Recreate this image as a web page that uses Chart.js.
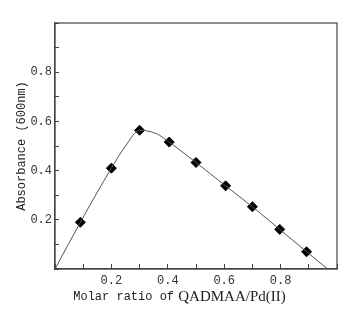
<!DOCTYPE html>
<html lang="en">
<head>
    <meta charset="UTF-8">
    <script src="https://cdn.jsdelivr.net/npm/chart.js"></script>
    <title>Absorbance vs molar ratio</title>
    <style>
        body { margin: 0; background: #fff; }
        #wrap { width: 359px; height: 325px; }
    </style>
</head>
<body>
    <div id="wrap"><canvas id="chart_div" width="359" height="325"></canvas></div>
    <script>
        // measured points (diamonds)
        var ratio = [0.09, 0.20, 0.30, 0.405, 0.50, 0.605, 0.70, 0.797, 0.892];
        var absorb = [0.19, 0.41, 0.564, 0.516, 0.433, 0.338, 0.253, 0.161, 0.070];

        // fitted curve through the points
        var curveX = [0, 0.09, 0.20, 0.25, 0.30, 0.36, 0.405, 0.50, 0.605, 0.70, 0.797, 0.892, 0.967];
        var curveY = [0, 0.19, 0.41, 0.50, 0.564, 0.55, 0.516, 0.433, 0.338, 0.253, 0.161, 0.070, 0];

        var tickLabels = ['0.2', '0.4', '0.6', '0.8'];
        var xTitleParts = ['Molar ratio of ', 'QADMAA/Pd(II)'];

        function pairs(xs, ys) {
            var out = [];
            for (var i = 0; i < xs.length; i++) out.push({x: xs[i], y: ys[i]});
            return out;
        }

        function tickText(value) {
            var s = value.toFixed(1);
            return tickLabels.indexOf(s) >= 0 ? s : '';
        }

        var monoFont = {family: '"Liberation Mono", "DejaVu Sans Mono", monospace', size: 12};

        // frame on top and right
        var framePlugin = {
            id: 'frame',
            afterDraw: function(chart) {
                var a = chart.chartArea, c = chart.ctx;
                c.save();
                c.strokeStyle = '#444';
                c.lineWidth = 1.2;
                c.strokeRect(a.left, a.top, a.right - a.left, a.bottom - a.top);
                c.restore();
            }
        };

        // x title uses two fonts like the original figure
        var xTitlePlugin = {
            id: 'xTitle',
            afterDraw: function(chart) {
                var c = chart.ctx;
                var f1 = '12px "Liberation Mono", monospace';
                var f2 = '15px "Liberation Serif", serif';
                c.save();
                c.fillStyle = '#222';
                c.textBaseline = 'middle';
                c.font = f1;
                var w1 = c.measureText(xTitleParts[0]).width;
                c.font = f2;
                var w2 = c.measureText(xTitleParts[1]).width;
                var x0 = 181 - (w1 + w2) / 2;
                c.font = f1;
                c.fillText(xTitleParts[0], x0, 297);
                c.font = f2;
                c.fillText(xTitleParts[1], x0 + w1 - 3, 297);
                c.restore();
            }
        };

        var config = {
            type: 'scatter',
            data: {
                datasets: [{
                    label: 'curve',
                    data: pairs(curveX, curveY),
                    showLine: true,
                    borderColor: '#555',
                    borderWidth: 1,
                    pointRadius: 0,
                    tension: 0.35,
                    cubicInterpolationMode: 'monotone'
                }, {
                    label: 'measured',
                    data: pairs(ratio, absorb),
                    pointStyle: 'rectRot',
                    pointRadius: 5,
                    backgroundColor: '#000',
                    borderColor: '#000'
                }]
            },
            options: {
                responsive: false,
                animation: false,
                layout: { padding: { left: 0, top: 23, right: 22, bottom: 0 } },
                plugins: { legend: { display: false }, tooltip: { enabled: false } },
                scales: {
                    x: {
                        min: 0, max: 1,
                        afterFit: function(s) { s.height = 56; },
                        grid: { drawOnChartArea: false, tickLength: -5, color: '#444' },
                        border: { color: '#444', width: 1.2 },
                        ticks: { stepSize: 0.1, autoSkip: false, maxRotation: 0, padding: 10, color: '#333', font: monoFont, callback: tickText },
                        title: { display: false }
                    },
                    y: {
                        min: 0, max: 1,
                        afterFit: function(s) { s.width = 55; },
                        grid: { drawOnChartArea: false, tickLength: -4, color: '#444' },
                        border: { color: '#444', width: 1.2 },
                        ticks: { stepSize: 0.1, autoSkip: false, padding: 7, color: '#333', font: monoFont, callback: tickText },
                        title: { display: true, text: 'Absorbance (600nm)', color: '#222', font: monoFont, padding: { top: 15, bottom: 0 } }
                    }
                }
            },
            plugins: [framePlugin, xTitlePlugin]
        };

        var ctx = document.getElementById('chart_div');
        var myChart = new Chart(ctx, config);
    </script>
</body>
</html>
